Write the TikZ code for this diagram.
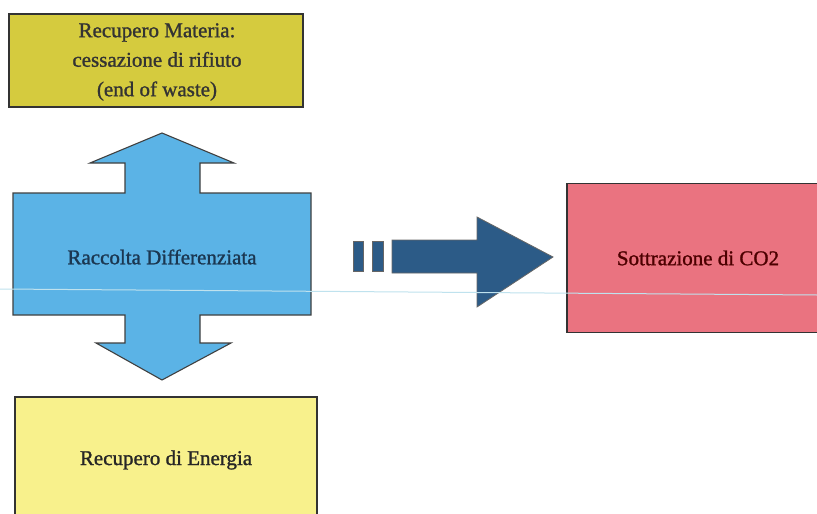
\documentclass[tikz,border=0pt]{standalone}
\usepackage{fontspec}
\setmainfont{Liberation Serif}
\newfontfamily\heavyfont{Liberation Serif}[FakeBold=1.2]
\definecolor{matcol}{HTML}{D5CB3E}
\definecolor{bluecol}{HTML}{5BB3E6}
\definecolor{darkcol}{HTML}{2C5B87}
\definecolor{redcol}{HTML}{EA7380}
\definecolor{enecol}{HTML}{F8F18C}
\definecolor{scanline}{HTML}{BFE2EE}
\begin{document}
\begin{tikzpicture}[x=1pt,y=-1pt,
  box/.style={draw=black!80, line width=1.6pt, inner sep=0pt},
  lbl/.style={font=\heavyfont\fontsize{21}{29.5}\selectfont, align=center}]
\useasboundingbox (0,0) rectangle (817,514);
\fill[white] (0,0) rectangle (817,514);
% boxes
\node[box, fill=matcol, minimum width=294pt, minimum height=93pt] (mat) at (156,60.5) {};
\node[lbl, text=black!80] (matl) at (157,62) {Recupero Materia:\\cessazione di rifiuto\\(end of waste)};
\node[box, fill=redcol, minimum width=262pt, minimum height=149pt] (co2) at (698,258) {};
\node[lbl, text=red!30!black] (co2l) at (co2.center) {Sottrazione di CO2};
\node[box, fill=enecol, minimum width=302pt, minimum height=128pt] (ene) at (166,461) {};
\node[lbl, text=black!85] (enel) at (166,460) {Recupero di Energia};
% blue double arrow
\draw[draw=black!75, line width=1.1pt, fill=bluecol]
  (162,133) -- (234,163) -- (200,163) -- (200,193) -- (311,193) -- (311,315)
  -- (200,315) -- (200,343) -- (231,343) -- (162,380) -- (96,343) -- (125,343)
  -- (125,315) -- (13,315) -- (13,193) -- (125,193) -- (125,163) -- (90,163) -- cycle;
\node[lbl, text=darkcol!60!black] (racc) at (162,257) {Raccolta Differenziata};
% dark striped arrow
\draw[draw=black!60, line width=0.8pt, fill=darkcol] (353,241) rectangle (363,271);
\draw[draw=black!60, line width=0.8pt, fill=darkcol] (372,241) rectangle (383,271);
\draw[draw=black!60, line width=0.8pt, fill=darkcol]
  (392,240) -- (477,240) -- (477,217) -- (553,257) -- (477,307) -- (477,273) -- (392,273) -- cycle;
% faint scan line
\draw[scanline, line width=1pt] (0,289) -- (817,295);
\end{tikzpicture}
\end{document}
